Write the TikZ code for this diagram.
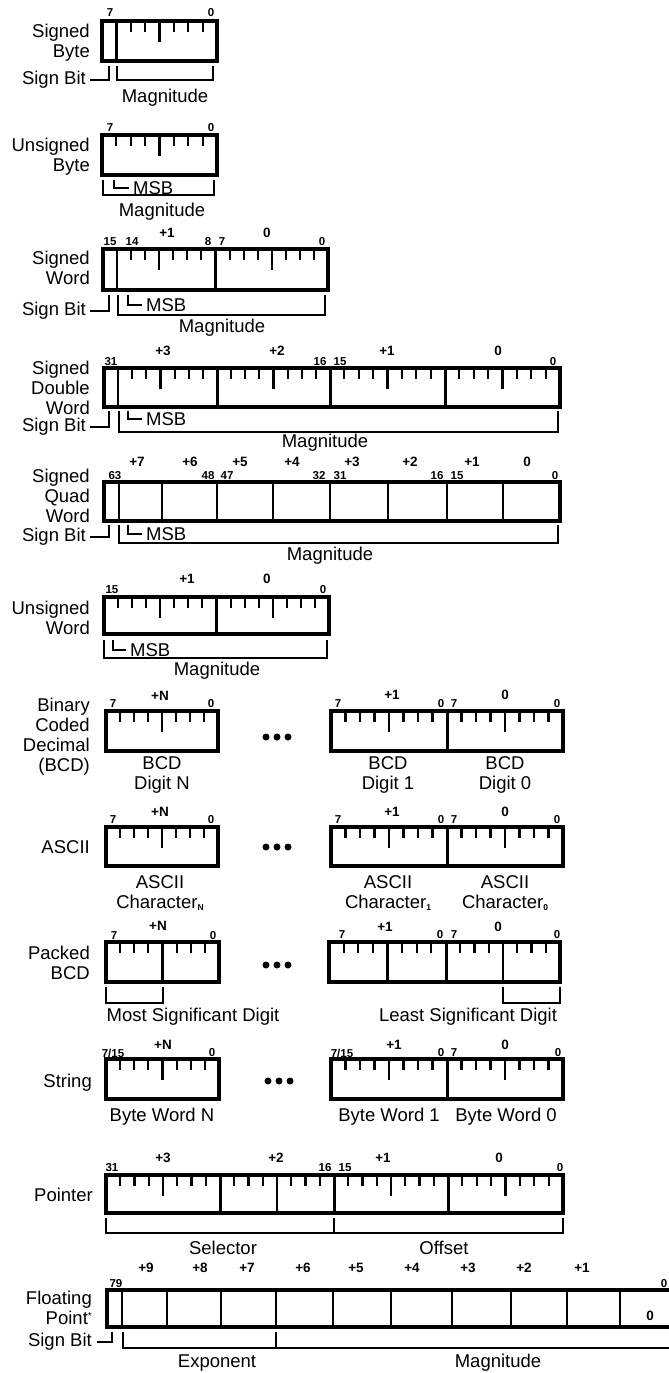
\documentclass[tikz,border=0pt]{standalone}
\usepackage{fontspec}
\setmainfont{Liberation Sans}
\usetikzlibrary{positioning}

\newcommand{\namefont}{\fontsize{18.5}{20}\selectfont}
\newcommand{\bitfont}{\fontsize{11.5}{12}\selectfont\bfseries}
\newcommand{\bytefont}{\fontsize{13.5}{14}\selectfont\bfseries}
\newcommand{\chsub}[1]{\raisebox{-2pt}{\fontsize{8.5}{8.5}\selectfont\bfseries #1}}

% seven bit ticks in one byte: left, right, top, end of the middle tick
\newcommand{\byteticks}[4]{%
  \foreach \k in {1,...,7}{
    \pgfmathsetmacro{\tx}{#1+(#2-#1)*\k/8}
    \pgfmathsetmacro{\ty}{\k==4 ? #4 : #3+11}
    \draw[tick] (\tx,#3) -- (\tx,\ty);
  }}

\begin{document}
\begin{tikzpicture}[x=1pt,y=-1pt,
    box/.style={line width=3.5pt},
    bytesep/.style={line width=3pt},
    bitsep/.style={line width=2.2pt},
    tick/.style={line width=2.1pt},
    brace/.style={line width=1.8pt},
    rowname/.style={font=\namefont,align=right,anchor=east,inner sep=0pt},
    caption/.style={font=\namefont,align=center,inner sep=0pt},
    bitnum/.style={font=\bitfont,inner sep=0pt},
    bytenum/.style={font=\bytefont,inner sep=0pt}]
    \clip (0,0) rectangle (669,1373);

    % Signed Byte
    \node[rowname] (sbyte) at (90,42.5) {Signed\\Byte};
    \draw[box] (102,21) rectangle (217,61);
    \byteticks{102}{217}{21}{42}
    \draw[bitsep] (116.4,21) -- (116.4,61);
    \node[bitnum] (sbyte7) at (110,13) {7};
    \node[bitnum] (sbyte0) at (211,13) {0};
    \node[rowname] (sbytesign) at (86,80) {Sign Bit};
    \draw[brace] ([xshift=4pt]sbytesign.east) -| (109,66);
    \draw[brace] (117,66) |- (213,80) -- (213,66);
    \node[caption] (sbytemag) at (165,98) {Magnitude};

    % Unsigned Byte
    \node[rowname] (ubyte) at (90,157) {Unsigned\\Byte};
    \draw[box] (102,135) rectangle (217,175);
    \byteticks{102}{217}{135}{156}
    \node[bitnum] (ubyte7) at (110,128) {7};
    \node[bitnum] (ubyte0) at (211,128) {0};
    \draw[brace] (103,180) |- (214,195) -- (214,180);
    \node[caption,anchor=west] (ubytemsb) at (133,188) {MSB};
    \draw[brace] (114,180) |- ([xshift=-4pt]ubytemsb.west);
    \node[caption] (ubytemag) at (162,212) {Magnitude};

    % Signed Word
    \node[rowname] (sword) at (90,268) {Signed\\Word};
    \draw[box] (103,249) rectangle (328,290);
    \byteticks{103}{215.5}{249}{270}
    \byteticks{215.5}{328}{249}{270}
    \draw[bytesep] (215.5,249) -- (215.5,290);
    \draw[bitsep] (117,249) -- (117,290);
    \node[bitnum] (sword15) at (110,242) {15};
    \node[bitnum] (sword14) at (132,242) {14};
    \node[bitnum] (sword8) at (208,242) {8};
    \node[bitnum] (sword7) at (222,242) {7};
    \node[bitnum] (sword0) at (322,242) {0};
    \node[bytenum] (swordb1) at (167,233) {+1};
    \node[bytenum] (swordb0) at (267,233) {0};
    \node[rowname] (swordsign) at (86,311) {Sign Bit};
    \draw[brace] ([xshift=4pt]swordsign.east) -| (109,295);
    \draw[brace] (118,295) |- (325,315) -- (325,295);
    \node[caption,anchor=west] (swordmsb) at (146,305) {MSB};
    \draw[brace] (128,295) |- ([xshift=-4pt]swordmsb.west);
    \node[caption] (swordmag) at (222,328) {Magnitude};

    % Signed Double Word
    \node[rowname] (sdword) at (90,388) {Signed\\Double\\Word};
    \draw[box] (104,368) rectangle (560,407);
    \byteticks{104}{217}{368}{389}
    \byteticks{217}{330}{368}{389}
    \byteticks{330}{445}{368}{389}
    \byteticks{445}{560}{368}{389}
    \foreach \bx in {217,330,445} \draw[bytesep] (\bx,368) -- (\bx,407);
    \draw[bitsep] (118.2,368) -- (118.2,407);
    \node[bitnum] (sdword31) at (111,362) {31};
    \node[bitnum] (sdword16) at (320,362) {16};
    \node[bitnum] (sdword15) at (340,362) {15};
    \node[bitnum] (sdword0) at (553,362) {0};
    \node[bytenum] (sdwordb3) at (163,351) {+3};
    \node[bytenum] (sdwordb2) at (277,351) {+2};
    \node[bytenum] (sdwordb1) at (387,351) {+1};
    \node[bytenum] (sdwordb0) at (498,351) {0};
    \node[rowname] (sdwordsign) at (86,427) {Sign Bit};
    \draw[brace] ([xshift=4pt]sdwordsign.east) -| (109,411);
    \draw[brace] (119,411) |- (558,432) -- (558,411);
    \node[caption,anchor=west] (sdwordmsb) at (146,419) {MSB};
    \draw[brace] (128,411) |- ([xshift=-4pt]sdwordmsb.west);
    \node[caption] (sdwordmag) at (325,443) {Magnitude};

    % Signed Quad Word
    \node[rowname] (sqword) at (90,496) {Signed\\Quad\\Word};
    \draw[box] (104,482) rectangle (560,521);
    \foreach \bx in {119,162,217,273,330,388,447,503} \draw[bitsep] (\bx,482) -- (\bx,521);
    \node[bitnum] (sqword63) at (115,476) {63};
    \node[bitnum] (sqword48) at (208,476) {48};
    \node[bitnum] (sqword47) at (227,476) {47};
    \node[bitnum] (sqword32) at (319,476) {32};
    \node[bitnum] (sqword31) at (340,476) {31};
    \node[bitnum] (sqword16) at (437,476) {16};
    \node[bitnum] (sqword15) at (457,476) {15};
    \node[bitnum] (sqword0) at (555,476) {0};
    \node[bytenum] (sqwordb7) at (137,462) {+7};
    \node[bytenum] (sqwordb6) at (190,462) {+6};
    \node[bytenum] (sqwordb5) at (240,462) {+5};
    \node[bytenum] (sqwordb4) at (292,462) {+4};
    \node[bytenum] (sqwordb3) at (352,462) {+3};
    \node[bytenum] (sqwordb2) at (410,462) {+2};
    \node[bytenum] (sqwordb1) at (472,462) {+1};
    \node[bytenum] (sqwordb0) at (527,462) {0};
    \node[rowname] (sqwordsign) at (86,537) {Sign Bit};
    \draw[brace] ([xshift=4pt]sqwordsign.east) -| (109,525);
    \draw[brace] (119,525) |- (558,543) -- (558,525);
    \node[caption,anchor=west] (sqwordmsb) at (146,534) {MSB};
    \draw[brace] (128,525) |- ([xshift=-4pt]sqwordmsb.west);
    \node[caption] (sqwordmag) at (330,556) {Magnitude};

    % Unsigned Word
    \node[rowname] (uword) at (90,618) {Unsigned\\Word};
    \draw[box] (104,597) rectangle (329,634);
    \byteticks{104}{216.5}{597}{618}
    \byteticks{216.5}{329}{597}{618}
    \draw[bytesep] (216.5,597) -- (216.5,634);
    \node[bitnum] (uword15) at (112,590) {15};
    \node[bitnum] (uword0) at (323,590) {0};
    \node[bytenum] (uwordb1) at (187,579) {+1};
    \node[bytenum] (uwordb0) at (267,579) {0};
    \draw[brace] (104,640) |- (327,658) -- (327,640);
    \node[caption,anchor=west] (uwordmsb) at (130,650) {MSB};
    \draw[brace] (113,640) |- ([xshift=-4pt]uwordmsb.west);
    \node[caption] (uwordmag) at (217,671) {Magnitude};

    % Binary Coded Decimal
    \node[rowname] (bcd) at (90,737) {Binary\\Coded\\Decimal\\(BCD)};
    \draw[box] (106,711) rectangle (218,751);
    \byteticks{106}{218}{711}{732}
    \node[bitnum] (bcdn7) at (113,704) {7};
    \node[bitnum] (bcdn0) at (211,704) {0};
    \node[bytenum] (bcdnb) at (160,696) {+N};
    \foreach \d in {-11,0,11} \fill (277+\d,737) circle (3.5pt);
    \draw[box] (331,711) rectangle (563,751);
    \byteticks{331}{447}{711}{732}
    \byteticks{447}{563}{711}{732}
    \draw[bytesep] (447,711) -- (447,751);
    \node[bitnum] (bcd17) at (338,704) {7};
    \node[bitnum] (bcd10) at (441,704) {0};
    \node[bitnum] (bcd07) at (454,704) {7};
    \node[bitnum] (bcd00) at (557,704) {0};
    \node[bytenum] (bcd1b) at (392,695) {+1};
    \node[bytenum] (bcd0b) at (505,695) {0};
    \node[caption] (bcdn) at (162,775) {BCD\\Digit N};
    \node[caption] (bcd1) at (388,775) {BCD\\Digit 1};
    \node[caption] (bcd0) at (505,775) {BCD\\Digit 0};

    % ASCII
    \node[rowname] (ascii) at (90,847) {ASCII};
    \draw[box] (106,827) rectangle (218,866);
    \byteticks{106}{218}{827}{848}
    \node[bitnum] (asciin7) at (113,820) {7};
    \node[bitnum] (asciin0) at (211,820) {0};
    \node[bytenum] (asciinb) at (160,812) {+N};
    \foreach \d in {-11,0,11} \fill (277+\d,847) circle (3.5pt);
    \draw[box] (331,827) rectangle (563,866);
    \byteticks{331}{447}{827}{848}
    \byteticks{447}{563}{827}{848}
    \draw[bytesep] (447,827) -- (447,866);
    \node[bitnum] (ascii17) at (338,820) {7};
    \node[bitnum] (ascii10) at (441,820) {0};
    \node[bitnum] (ascii07) at (454,820) {7};
    \node[bitnum] (ascii00) at (557,820) {0};
    \node[bytenum] (ascii1b) at (392,812) {+1};
    \node[bytenum] (ascii0b) at (505,812) {0};
    \node[caption] (asciin) at (160,893) {ASCII\\Character\chsub{N}};
    \node[caption] (ascii1) at (388,893) {ASCII\\Character\chsub{1}};
    \node[caption] (ascii0) at (505,893) {ASCII\\Character\chsub{0}};

    % Packed BCD
    \node[rowname] (pbcd) at (90,963) {Packed\\BCD};
    \draw[box] (106,942) rectangle (219,982);
    \byteticks{106}{219}{942}{982}
    \node[bitnum] (pbcdn7) at (114,936) {7};
    \node[bitnum] (pbcdn0) at (213,936) {0};
    \node[bytenum] (pbcdnb) at (158,926) {+N};
    \foreach \d in {-11,0,11} \fill (277+\d,965) circle (3.5pt);
    \draw[box] (329,942) rectangle (560,982);
    \byteticks{329}{446}{942}{982}
    \byteticks{446}{560}{942}{982}
    \draw[bytesep] (446,942) -- (446,982);
    \node[bitnum] (pbcd17) at (342,935) {7};
    \node[bitnum] (pbcd10) at (440,935) {0};
    \node[bitnum] (pbcd07) at (454,935) {7};
    \node[bitnum] (pbcd00) at (557,935) {0};
    \node[bytenum] (pbcd1b) at (385,927) {+1};
    \node[bytenum] (pbcd0b) at (498,927) {0};
    \draw[brace] (106,987) |- (163,1003) -- (163,987);
    \draw[brace] (503,987) |- (560,1003) -- (560,987);
    \node[caption] (pbcdmost) at (193,1017) {Most Significant Digit};
    \node[caption] (pbcdleast) at (468,1017) {Least Significant Digit};

    % String
    \node[rowname] (string) at (92,1083) {String};
    \draw[box] (106,1059) rectangle (219,1099);
    \byteticks{106}{219}{1059}{1080}
    \node[bitnum] (stringn7) at (113,1053) {7/15};
    \node[bitnum] (stringn0) at (212,1053) {0};
    \node[bytenum] (stringnb) at (163,1045) {+N};
    \foreach \d in {-11,0,11} \fill (279+\d,1081) circle (3.5pt);
    \draw[box] (331,1059) rectangle (563,1099);
    \byteticks{331}{447}{1059}{1080}
    \byteticks{447}{563}{1059}{1080}
    \draw[bytesep] (447,1059) -- (447,1099);
    \node[bitnum] (string17) at (342,1053) {7/15};
    \node[bitnum] (string10) at (441,1053) {0};
    \node[bitnum] (string07) at (454,1053) {7};
    \node[bitnum] (string00) at (558,1053) {0};
    \node[bytenum] (string1b) at (394,1045) {+1};
    \node[bytenum] (string0b) at (505,1045) {0};
    \node[caption] (stringn) at (162,1117) {Byte Word N};
    \node[caption] (string1) at (389,1117) {Byte Word 1};
    \node[caption] (string0) at (506,1117) {Byte Word 0};

    % Pointer
    \node[rowname] (pointer) at (93,1195) {Pointer};
    \draw[box] (106,1175) rectangle (563,1213);
    \byteticks{106}{220}{1175}{1196}
    \byteticks{220}{334}{1175}{1213}
    \byteticks{334}{448}{1175}{1196}
    \byteticks{448}{563}{1175}{1196}
    \foreach \bx in {220,334,448} \draw[bytesep] (\bx,1175) -- (\bx,1213);
    \node[bitnum] (pointer31) at (112,1168) {31};
    \node[bitnum] (pointer16) at (325,1168) {16};
    \node[bitnum] (pointer15) at (345,1168) {15};
    \node[bitnum] (pointer0) at (560,1168) {0};
    \node[bytenum] (pointerb3) at (163,1158) {+3};
    \node[bytenum] (pointerb2) at (276,1158) {+2};
    \node[bytenum] (pointerb1) at (383,1158) {+1};
    \node[bytenum] (pointerb0) at (499,1158) {0};
    \draw[brace] (106,1218) |- (563,1233) -- (563,1218);
    \draw[brace] (334,1218) -- (334,1233);
    \node[caption] (selector) at (223,1248) {Selector};
    \node[caption] (offset) at (444,1248) {Offset};

    % Floating Point
    \node[rowname] (fpoint) at (92,1308) {Floating\\Point\raisebox{5pt}{\fontsize{10}{10}\selectfont *}};
    \draw[box] (107,1290) rectangle (678,1327);
    \foreach \bx in {122,167,221,276,333,391,452,511,567,620} \draw[bitsep] (\bx,1290) -- (\bx,1327);
    \node[bitnum] (fpoint79) at (116,1284) {79};
    \node[bitnum] (fpoint0) at (664,1284) {0};
    \foreach \b/\bx in {9/146,8/200,7/247,6/303,5/356,4/412,3/468,2/524,1/582}
      \node[bytenum] (fpointb\b) at (\bx,1268) {+\b};
    \node[bytenum] (fpointb0) at (650,1316) {0};
    \node[rowname] (fpointsign) at (92,1342) {Sign Bit};
    \draw[brace] ([xshift=5pt]fpointsign.east) -| (112,1332);
    \draw[brace] (123,1332) |- (680,1348);
    \draw[brace] (276,1332) -- (276,1348);
    \node[caption] (exponent) at (217,1363) {Exponent};
    \node[caption] (fpointmag) at (498,1363) {Magnitude};
\end{tikzpicture}
\end{document}
